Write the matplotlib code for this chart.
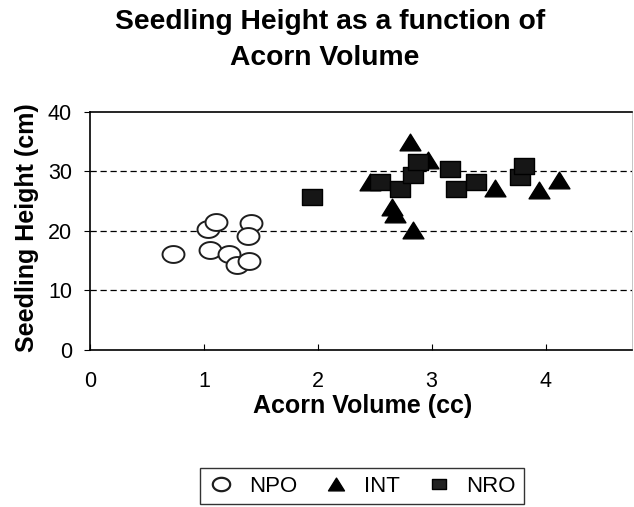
import matplotlib
matplotlib.use("Agg")
import matplotlib.pyplot as plt
import numpy as np
from matplotlib.lines import Line2D
from matplotlib.path import Path

plt.rcParams['font.family'] = ['Liberation Sans', 'DejaVu Sans']

npo_x = [0.73, 1.04, 1.11, 1.05, 1.22, 1.29, 1.40, 1.41, 1.39]
npo_y = [16.2, 20.4, 21.5, 16.8, 16.2, 14.2, 15.0, 21.3, 19.1]

int_x = [2.81, 2.97, 2.46, 2.65, 2.68, 2.84, 3.56, 3.94, 4.12]
int_y = [35.0, 31.9, 28.3, 24.0, 22.9, 20.1, 27.3, 26.9, 28.5]

nro_x = [1.95, 2.55, 2.72, 2.84, 2.88, 3.16, 3.21, 3.39, 3.78, 3.81]
nro_y = [25.7, 28.3, 27.0, 29.4, 31.6, 30.4, 27.0, 28.3, 29.0, 31.0]

x_ticks = [0, 1, 2, 3, 4]
y_ticks = [0, 10, 20, 30, 40]
series_names = ['NPO', 'INT', 'NRO']

# slightly wide marker shapes (as in the scanned original)
t = np.linspace(0, 2 * np.pi, 60)
ellipse = Path(np.column_stack([np.cos(t), 0.77 * np.sin(t)]), closed=True)
wide_tri = Path([(-1, -0.8), (1, -0.8), (0, 0.8), (-1, -0.8)], closed=True)
wide_sq = Path([(-1, -0.78), (1, -0.78), (1, 0.78), (-1, 0.78), (-1, -0.78)], closed=True)

fig = plt.figure(figsize=(6.34, 5.07), dpi=100)
ax = fig.add_axes([0.142, 0.31, 0.855, 0.469])

for yv in [10, 20, 30]:
    ax.axhline(yv, color='black', linestyle=(0, (5, 3)), linewidth=0.9, zorder=1)

ax.scatter(npo_x, npo_y, s=250, marker=ellipse, facecolor='white', edgecolor='#1e1e1e',
           linewidth=1.4, zorder=3)
ax.scatter(int_x, int_y, s=225, marker=wide_tri, facecolor='black', edgecolor='black', zorder=3)
ax.scatter(nro_x, nro_y, s=207, marker=wide_sq, facecolor='#161616', edgecolor='black', zorder=4)

ax.set_xlim(0, 4.76)
ax.set_ylim(0, 40)
ax.set_xticks(x_ticks)
ax.set_yticks(y_ticks)
ax.tick_params(axis='both', labelsize=15.5, width=0.8)
ax.tick_params(axis='x', direction='in', length=4, pad=15)
ax.tick_params(axis='y', direction='out', length=4, pad=9)
for sp in ax.spines.values():
    sp.set_linewidth(1.2)
ax.spines['right'].set_color('#bbbbbb')
ax.spines['right'].set_linewidth(0.6)

fig.text(363 / 634, 1 - 413 / 507, 'Acorn Volume (cc)', ha='center', va='baseline',
         fontsize=18, fontweight='bold')
fig.text(27 / 634, 1 - 228 / 507, 'Seedling Height (cm)', ha='center', va='center',
         rotation=90, fontsize=18, fontweight='bold')

fig.text(330 / 634, 1 - 29 / 507, 'Seedling Height as a function of', ha='center',
         va='baseline', fontsize=20.3, fontweight='bold')
fig.text(325 / 634, 1 - 65 / 507, 'Acorn Volume', ha='center',
         va='baseline', fontsize=20.3, fontweight='bold')

handles = [
    Line2D([], [], linestyle='none', marker=ellipse, markersize=12.5, markerfacecolor='white',
           markeredgecolor='#1e1e1e', markeredgewidth=1.6),
    Line2D([], [], linestyle='none', marker=wide_tri, markersize=11.5, markerfacecolor='black',
           markeredgecolor='black'),
    Line2D([], [], linestyle='none', marker=wide_sq, markersize=10, markerfacecolor='#222222',
           markeredgecolor='black'),
]
leg = fig.legend(handles, series_names, loc='center', bbox_to_anchor=(362 / 634, 1 - 486 / 507),
                 ncol=3, fontsize=16, frameon=True, fancybox=False, handletextpad=0.65,
                 columnspacing=1.15, handlelength=1.2, borderpad=0.35, borderaxespad=0)
leg.get_frame().set_edgecolor('black')
leg.get_frame().set_linewidth(1.0)

fig.savefig('out.png', dpi=100)
